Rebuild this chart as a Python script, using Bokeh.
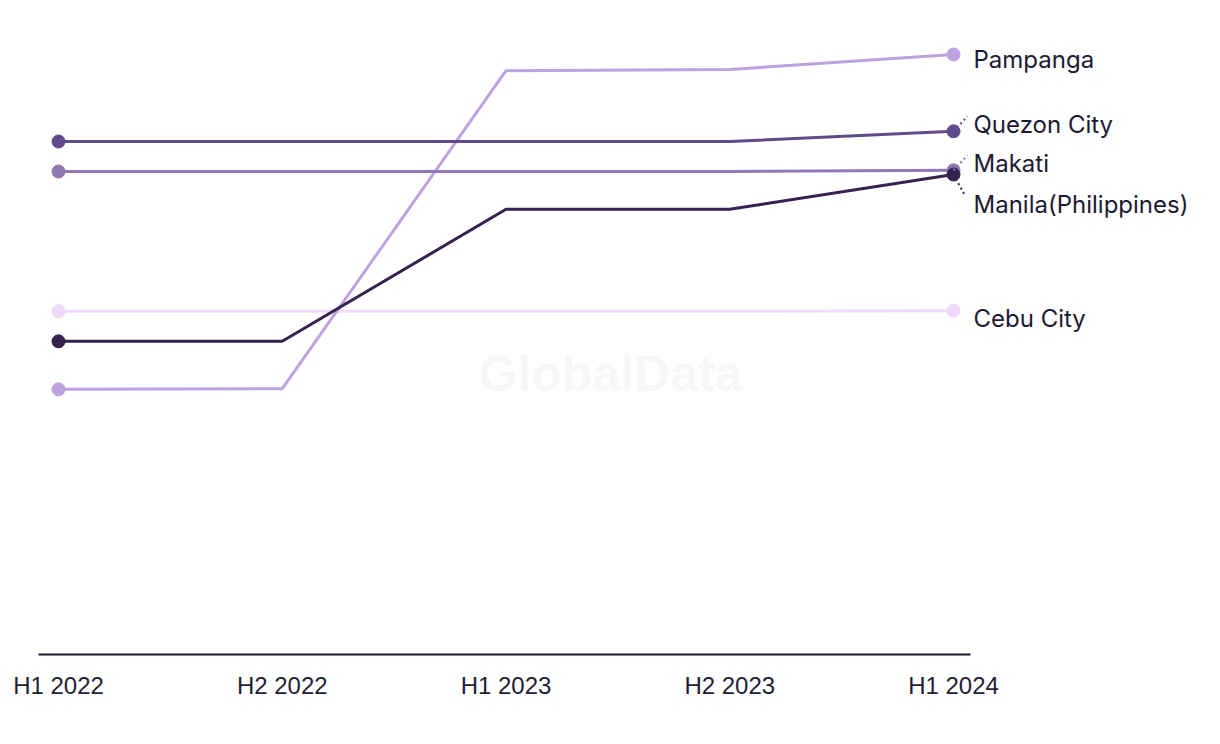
from bokeh.plotting import figure
from bokeh.models import FixedTicker, Range1d
from bokeh.core.properties import value
from bokeh.embed import file_html
from bokeh.resources import INLINE

periods = ["H1 2022", "H2 2022", "H1 2023", "H2 2023", "H1 2024"]
cities = ["Pampanga", "Quezon City", "Makati", "Manila(Philippines)", "Cebu City"]
pampanga = [44.2, 44.3, 97.3, 97.5, 100.0]
quezon = [85.5, 85.5, 85.5, 85.5, 87.2]
makati = [80.5, 80.5, 80.5, 80.5, 80.7]
manila = [52.2, 52.2, 74.2, 74.2, 80.0]
cebu = [57.2, 57.2, 57.2, 57.2, 57.3]

series = [pampanga, quezon, makati, manila, cebu]
colors = ["#bea3e0", "#5f4b8b", "#9178b2", "#35224f", "#f2d9fb"]
# label vertical offsets in screen px (positive = down), for de-overlap
label_dy = [5, -7, -7, 30, 8]

W, H = 1220, 744
X0 = 58          # screen x of first period
BASE = 654       # screen y of value 0
FRAME_H = 660
px_x = 223.75
px_y = 6.0

p = figure(width=W, height=H, output_backend="svg", toolbar_location=None,
           min_border_left=0, min_border_right=0, min_border_top=0,
           min_border_bottom=H - FRAME_H)
p.x_range = Range1d(-X0 / px_x, (W - X0) / px_x)
p.y_range = Range1d(-(FRAME_H - BASE) / px_y, BASE / px_y)
p.outline_line_color = None
p.grid.visible = False
p.yaxis.visible = False
p.background_fill_color = "white"
p.border_fill_color = "white"

xs = list(range(len(periods)))

# watermark
p.text(x=[(610 - X0) / px_x], y=[(BASE - 373) / px_y], text=["GlobalData"],
       text_font=value("Liberation Sans"), text_font_style="bold",
       text_font_size="50px", text_color="#f7f7f7",
       text_align="center", text_baseline="middle")

# baseline
p.segment(x0=[-20 / px_x], x1=[4 + 17 / px_x], y0=[0], y1=[0],
          line_color="#1c1a33", line_width=2)

draw_order = [4, 0, 2, 1, 3]
for i in draw_order:
    ys = series[i]
    c = colors[i]
    p.line(xs, ys, line_color=c, line_width=3)
    p.scatter([xs[0], xs[-1]], [ys[0], ys[-1]], size=13, fill_color=c,
              line_color=c)

for i in range(len(cities)):
    ys = series[i]
    yl = ys[-1] - label_dy[i] / px_y
    if abs(label_dy[i]) > 6 and i != 4:
        if label_dy[i] < 0:
            x1 = xs[-1] + 14 / px_x
            y1 = ys[-1] + 15 / px_y
        else:
            x1 = xs[-1] + 11 / px_x
            y1 = ys[-1] - 20 / px_y
        p.segment(x0=[xs[-1]], y0=[ys[-1]], x1=[x1], y1=[y1],
                  line_color=colors[i], line_width=2, line_dash="2 3")
    p.text(x=[xs[-1] + 20 / px_x], y=[yl], text=[cities[i]],
           text_font=value("Inter"), text_font_size="24px",
           text_color="#1c1a33", text_baseline="middle", text_align="left")

p.xaxis.ticker = FixedTicker(ticks=xs)
p.xaxis.major_label_overrides = {i: periods[i] for i in xs}
p.xaxis.axis_line_color = None
p.xaxis.major_tick_line_color = None
p.xaxis.minor_tick_line_color = None
p.xaxis.major_tick_out = 0
p.xaxis.major_tick_in = 0
p.xaxis.major_label_standoff = 11
p.xaxis.major_label_text_font = "Liberation Sans"
p.xaxis.major_label_text_font_size = "24px"
p.xaxis.major_label_text_color = "#1f1d36"

open("out.html", "w").write(file_html(p, INLINE))
